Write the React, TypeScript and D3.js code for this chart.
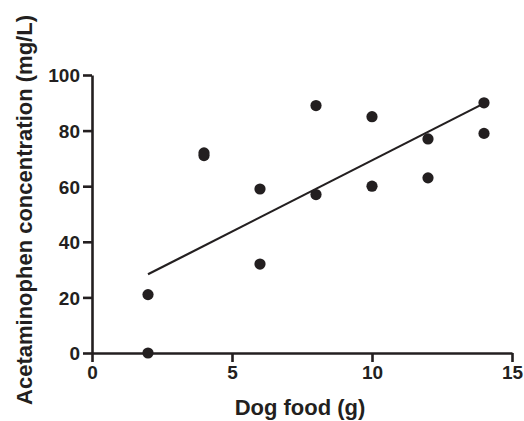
import React, { useEffect, useRef } from 'react';
import * as d3 from 'd3';

// scatter data
const foodGrams = [2, 2, 4, 4, 6, 6, 8, 8, 10, 10, 12, 12, 14, 14];
const concentration = [0, 21, 71, 72, 59, 32, 89, 57, 85, 60, 77, 63, 90, 79];

// regression line as drawn (end points)
const fitX = [2, 14];
const fitY = [28.3, 89.8];

const xTicks = [0, 5, 10, 15];
const yTicks = [0, 20, 40, 60, 80, 100];

const ink = '#231f20';

const App = () => {
    const svgRef = useRef<SVGSVGElement>(null);

    useEffect(() => {
        const svg = d3.select(svgRef.current);
        svg.selectAll('*').remove();

        const width = 524, height = 421;
        const margin = {top: 75, right: 12, bottom: 68, left: 92};

        svg.attr('width', width).attr('height', height);

        const x = d3.scaleLinear()
            .domain([0, 15])
            .range([margin.left, width - margin.right]);

        const y = d3.scaleLinear()
            .domain([0, 100])
            .range([height - margin.bottom, margin.top]);

        const font = '"Liberation Sans", Arial, sans-serif';

        // x axis
        const xAxis = svg.append('g')
            .attr('transform', `translate(0,${y(0)})`)
            .call(d3.axisBottom(x).tickValues(xTicks).tickSize(9).tickPadding(4).tickSizeOuter(0));

        // y axis
        const yAxis = svg.append('g')
            .attr('transform', `translate(${x(0)},0)`)
            .call(d3.axisLeft(y).tickValues(yTicks).tickSize(9).tickPadding(3).tickSizeOuter(0));

        [xAxis, yAxis].forEach((g) => {
            g.select('.domain').attr('stroke', ink).attr('stroke-width', 2.6);
            g.selectAll('.tick line').attr('stroke', ink).attr('stroke-width', 2.6);
            g.selectAll('.tick text')
                .attr('fill', ink)
                .attr('font-family', font)
                .attr('font-weight', 'bold')
                .attr('font-size', 19);
        });
        yAxis.selectAll('.tick text').attr('dy', '0.36em');

        // fitted line
        const line = d3.line<number>()
            .x((d) => x(d))
            .y((d, i) => y(fitY[i]));

        svg.append('path')
            .datum(fitX)
            .attr('d', line)
            .attr('fill', 'none')
            .attr('stroke', ink)
            .attr('stroke-width', 2.2);

        // points
        svg.append('g')
            .selectAll('circle')
            .data(foodGrams)
            .enter()
            .append('circle')
            .attr('cx', (d) => x(d))
            .attr('cy', (d, i) => y(concentration[i]))
            .attr('r', 5.6)
            .attr('fill', ink);

        // axis titles
        svg.append('text')
            .attr('x', (x(0) + x(15)) / 2 - 2)
            .attr('y', 415)
            .attr('text-anchor', 'middle')
            .attr('font-family', font)
            .attr('font-weight', 'bold')
            .attr('font-size', 22)
            .attr('fill', ink)
            .text('Dog food (g)');

        svg.append('text')
            .attr('transform', `translate(32,210) rotate(-90)`)
            .attr('text-anchor', 'middle')
            .attr('font-family', font)
            .attr('font-weight', 'bold')
            .attr('font-size', 22)
            .attr('fill', ink)
            .text('Acetaminophen concentration (mg/L)');
    }, []);

    return (
        <svg ref={svgRef} style={{position: 'absolute', left: 0, top: 0, background: '#fff'}}></svg>
    );
};

export default App;
